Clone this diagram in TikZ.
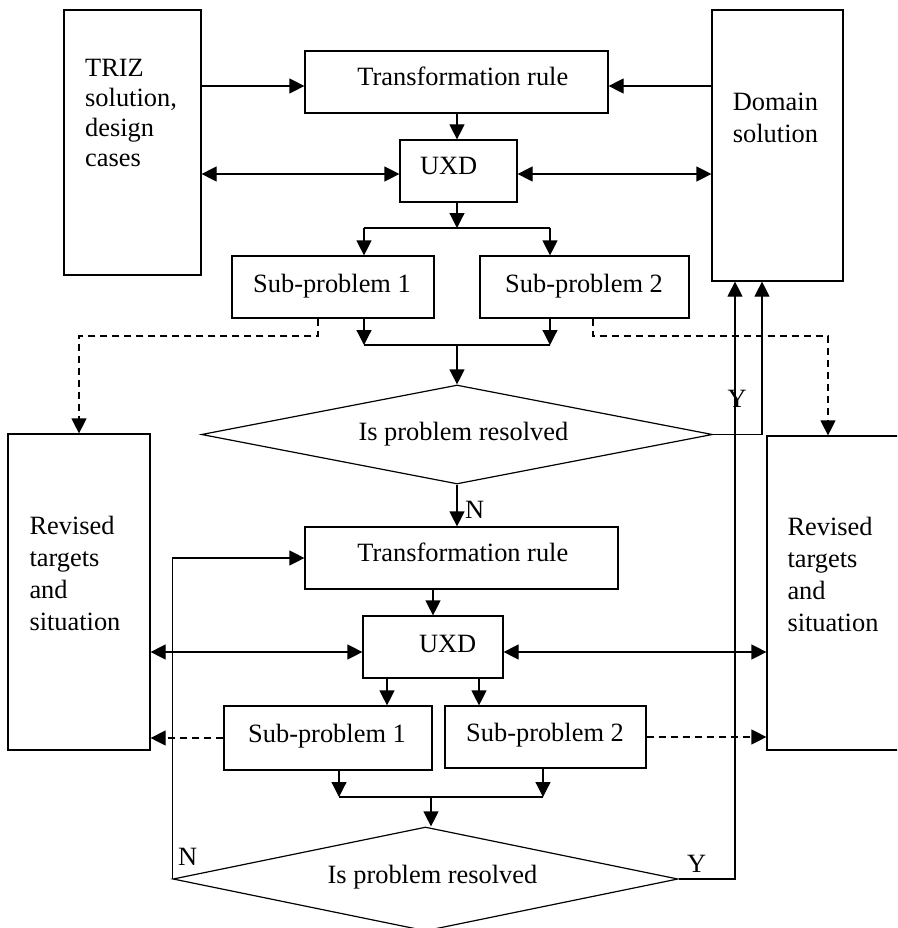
\documentclass[tikz,border=0pt]{standalone}
\usepackage{fontspec}
\setmainfont{Liberation Serif}
\usetikzlibrary{arrows.meta,shapes.geometric}
\tikzset{
  box/.style={draw,line width=1.2pt,inner sep=0pt,minimum width=#1},
  txt/.style={inner sep=0pt,anchor=base,font=\fontsize{26.4}{30}\selectfont},
  ltxt/.style={inner sep=0pt,anchor=base west,font=\fontsize{26.4}{30}\selectfont},
  conn/.style={line width=1.2pt},
  arr/.style={line width=1.2pt,-{Triangle[length=15pt,width=15pt]}},
  darr/.style={line width=1.2pt,{Triangle[length=15pt,width=15pt]}-{Triangle[length=15pt,width=15pt]}},
  dsh/.style={dash pattern=on 7pt off 5pt},
  dec/.style={diamond,draw,line width=1.2pt,inner sep=0pt,shape aspect=5},
}
\begin{document}
\begin{tikzpicture}[x=1pt,y=-1pt]
\useasboundingbox (0,0) rectangle (897,928);
\clip (0,0) rectangle (897,928);
% boxes
\node[box=137pt,minimum height=265pt] (triz) at (132.5,142.5) {};
\node[box=131pt,minimum height=271pt] (dom) at (777.5,145.5) {};
\node[box=303pt,minimum height=62pt] (tr1) at (456.5,82) {};
\node[box=117pt,minimum height=62pt] (uxd1) at (458.5,171) {};
\node[box=202pt,minimum height=62pt] (sub1) at (333,287) {};
\node[box=209pt,minimum height=62pt] (sub2) at (584.5,287) {};
\node[dec,minimum width=511pt,minimum height=99pt] (d1) at (457,434.5) {};
\node[box=142pt,minimum height=316pt] (rev1) at (79,592) {};
\node[box=153pt,minimum height=314pt] (rev2) at (843.5,593) {};
\node[box=313pt,minimum height=62pt] (tr2) at (461.5,558) {};
\node[box=140pt,minimum height=62pt] (uxd2) at (433,647) {};
\node[box=208pt,minimum height=64pt] (sub1b) at (328,738) {};
\node[box=201pt,minimum height=62pt] (sub2b) at (545.5,737) {};
\node[dec,minimum width=505pt,minimum height=104pt] (d2) at (425.5,879) {};
% texts
\node[ltxt] (trizt) at (85,76.7) {\begin{tabular}[t]{@{}l@{}}TRIZ\\solution,\\design\\cases\end{tabular}};
\node[ltxt,font=\fontsize{26.4}{32}\selectfont] (domt) at (732.7,110.7) {\begin{tabular}[t]{@{}l@{}}Domain\\solution\end{tabular}};
\node[txt] (tr1t) at (462.8,86) {Transformation rule};
\node[txt] (uxd1t) at (448.7,175) {UXD};
\node[txt] (sub1t) at (332,292) {Sub-problem 1};
\node[txt] (sub2t) at (584,292) {Sub-problem 2};
\node[txt] (d1t) at (463.4,440.5) {Is problem resolved};
\node[ltxt,font=\fontsize{26.4}{32.2}\selectfont] (rev1t) at (29.3,534.3) {\begin{tabular}[t]{@{}l@{}}Revised\\targets\\and\\situation\end{tabular}};
\node[ltxt,font=\fontsize{26.4}{32.2}\selectfont] (rev2t) at (787.3,535.3) {\begin{tabular}[t]{@{}l@{}}Revised\\targets\\and\\situation\end{tabular}};
\node[txt] (tr2t) at (462.8,561.5) {Transformation rule};
\node[txt] (uxd2t) at (447.7,652) {UXD};
\node[txt] (sub1bt) at (327,742) {Sub-problem 1};
\node[txt] (sub2bt) at (545,741) {Sub-problem 2};
\node[txt] (d2t) at (432.5,883.3) {Is problem resolved};
\node[ltxt] (n1) at (465,518.3) {N};
\node[ltxt] (n2) at (178,865) {N};
\node[ltxt] (y1) at (727.5,407.7) {Y};
\node[ltxt] (y2) at (687,872.7) {Y};
% helper coordinates
\coordinate (j1) at (457,228);
\coordinate (j1L) at (364,228);
\coordinate (j1R) at (550,228);
\coordinate (j2) at (457,345);
\coordinate (j2L) at (364,345);
\coordinate (j2R) at (550,345);
\coordinate (k1) at (318,336);
\coordinate (k2) at (593,336);
\coordinate (k2r) at (828,336);
\coordinate (a1) at (387,692);
\coordinate (a2) at (479,692);
\coordinate (j4) at (431,797);
\coordinate (j4L) at (339,797);
\coordinate (j4R) at (543,797);
\coordinate (ya) at (735,300);
\coordinate (yb) at (762,300);
% upper connectors
\draw[arr] ([yshift=-4pt]tr1.west -| triz.east) -- ([yshift=-4pt]tr1.west);
\draw[arr] ([yshift=-4pt]tr1.east -| dom.west) -- ([yshift=-4pt]tr1.east);
\draw[arr] (j1 |- tr1.south) -- (j1 |- uxd1.north);
\draw[darr] ([yshift=-3pt]uxd1.west -| triz.east) -- ([yshift=-3pt]uxd1.west);
\draw[darr] ([yshift=-3pt]uxd1.east) -- ([yshift=-3pt]uxd1.east -| dom.west);
\draw[arr] (j1 |- uxd1.south) -- (j1);
\draw[conn] (j1L) -- (j1R);
\draw[arr] (j1L) -- (j1L |- sub1.north);
\draw[arr] (j1R) -- (j1R |- sub2.north);
\draw[arr] (j2L |- sub1.south) -- (j2L);
\draw[arr] (j2R |- sub2.south) -- (j2R);
\draw[conn] (j2L) -- (j2R);
\draw[arr] (j2) -- (d1.north);
\draw[arr,dsh] (k1 |- sub1.south) -- (k1) -| (rev1.north);
\draw[arr,dsh] (k2 |- sub2.south) -- (k2) -- (k2r) -- (k2r |- rev2.north);
\draw[arr] (d1.south) -- (d1.south |- tr2.north);
\draw[arr] (d1.east) -| (yb |- dom.south);
% lower connectors
\draw[arr] (d2.west) |- (tr2.west);
\draw[arr] (uxd2.north |- tr2.south) -- (uxd2.north);
\draw[darr] ([yshift=-5pt]uxd2.west -| rev1.east) -- ([yshift=-5pt]uxd2.west);
\draw[darr] ([yshift=-5pt]uxd2.east) -- ([yshift=-5pt]uxd2.east -| rev2.west);
\draw[arr] (a1 |- uxd2.south) -- (a1 |- sub1b.north);
\draw[arr] (a2 |- uxd2.south) -- (a2 |- sub2b.north);
\draw[arr,dsh] (sub1b.west) -- (sub1b.west -| rev1.east);
\draw[arr,dsh] (sub2b.east) -- (sub2b.east -| rev2.west);
\draw[arr] (j4L |- sub1b.south) -- (j4L);
\draw[arr] (j4R |- sub2b.south) -- (j4R);
\draw[conn] (j4L) -- (j4R);
\draw[arr] (j4) -- (j4 |- d2.north);
\draw[arr] (d2.east) -| (ya |- dom.south);
\end{tikzpicture}
\end{document}
